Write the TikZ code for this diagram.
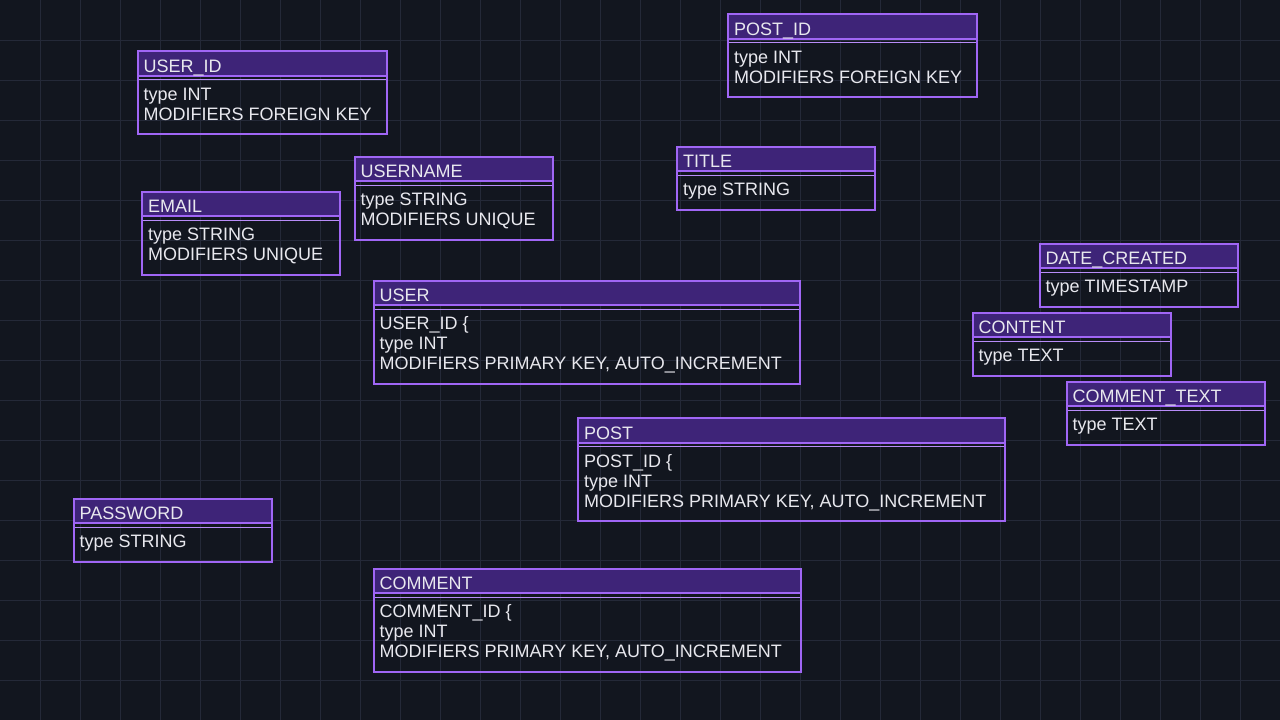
\documentclass[tikz,border=0pt]{standalone}
\usepackage{fontspec}
\setmainfont{Liberation Sans}
\definecolor{canvas}{HTML}{12161F}
\definecolor{gridline}{HTML}{242938}
\definecolor{frameclr}{HTML}{A066F5}
\definecolor{headclr}{HTML}{3E2478}
\definecolor{textclr}{HTML}{E8E8EE}
\tikzset{
  boxframe/.style={draw=frameclr, line width=2pt, rectangle, inner sep=0pt, outer sep=0pt, anchor=north west},
  headfill/.style={fill=headclr},
  headrule/.style={draw=frameclr, line width=2pt},
  subrule/.style={draw=frameclr!75!white, line width=1pt},
  label/.style={text=textclr, inner sep=0pt, anchor=base west, font={\fontsize{18}{20}\selectfont}}
}
% \entity{name}{x}{y}{width}{height}{title}{body lines}
\newcommand\entity[7]{%
  \fill[headfill] (#2,#3) rectangle ++(#4,24.5);
  \draw[headrule] (#2,#3+24.5) -- ++(#4,0);
  \draw[subrule] (#2,#3+28.5) -- ++(#4,0);
  \node[boxframe, minimum width=#4pt, minimum height=#5pt] (#1) at (#2,#3) {};
  \node[label] (#1-title) at (#2+6,#3+21) {#6};
  \foreach \ln [count=\i] in {#7}{
    \node[label] (#1-l\i) at (#2+6,#3+49+20*\i-20) {\ln};
  }%
}
\begin{document}
\begin{tikzpicture}[x=1pt,y=-1pt]
  \fill[canvas] (0,0) rectangle (1280,720);
  \useasboundingbox (0,0) rectangle (1280,720);
  % background grid, 40 px pitch
  \foreach \gx in {40,80,...,1240} \draw[gridline, line width=1pt] (\gx,0) -- (\gx,720);
  \foreach \gy in {40,80,...,680} \draw[gridline, line width=1pt] (0,\gy) -- (1280,\gy);

  \entity{userid}{137.5}{51}{249}{83}{USER\_ID}{type INT, MODIFIERS FOREIGN KEY}
  \entity{postid}{728}{14}{249}{83}{POST\_ID}{type INT, MODIFIERS FOREIGN KEY}
  \entity{username}{354.5}{156.5}{198}{83}{USERNAME}{type STRING, MODIFIERS UNIQUE}
  \entity{title}{677}{146.5}{198}{63}{TITLE}{type STRING}
  \entity{email}{142}{191.5}{198}{83}{EMAIL}{type STRING, MODIFIERS UNIQUE}
  \entity{datecreated}{1039.5}{243.5}{198}{63}{DATE\_CREATED}{type TIMESTAMP}
  \entity{content}{972.5}{312.5}{198}{63}{CONTENT}{type TEXT}
  \entity{commenttext}{1066.5}{381.5}{198}{63}{COMMENT\_TEXT}{type TEXT}
  \entity{user}{373.5}{280.5}{426}{103}{USER}{USER\_ID \{, type INT, {MODIFIERS PRIMARY KEY, AUTO\_INCREMENT}}
  \entity{post}{578}{418}{427}{103}{POST}{POST\_ID \{, type INT, {MODIFIERS PRIMARY KEY, AUTO\_INCREMENT}}
  \entity{password}{73.5}{498.5}{198}{63}{PASSWORD}{type STRING}
  \entity{comment}{373.5}{568.5}{427}{103}{COMMENT}{COMMENT\_ID \{, type INT, {MODIFIERS PRIMARY KEY, AUTO\_INCREMENT}}
\end{tikzpicture}
\end{document}
